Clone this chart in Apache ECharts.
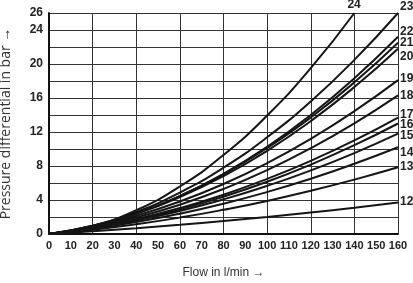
<!DOCTYPE html>
<html>
<head>
<meta charset="utf-8">
<script src="https://cdn.jsdelivr.net/npm/echarts@6/dist/echarts.min.js"></script>
<style>
html,body{margin:0;padding:0;background:#fff;}
#chart{width:413px;height:283px;}
</style>
</head>
<body>
<div id="chart"></div>
<script>
// Flow (l/min) sample points
var flow = [0, 20, 40, 60, 80, 100, 120, 140, 160];
// Pressure differential (bar) per curve
var curve24 = [0, 0.94, 2.8, 5.59, 9.3, 13.94, 19.51, 26];
var curve23 = [0, 0.98, 2.6, 4.88, 7.8, 11.38, 15.6, 20.48, 26];
var curve22 = [0, 0.92, 2.41, 4.46, 7.08, 10.26, 14.01, 18.32, 23.2];
var curve21 = [0, 0.97, 2.46, 4.48, 7.03, 10.11, 13.71, 17.84, 22.5];
var curve20 = [0, 0.94, 2.38, 4.34, 6.81, 9.79, 13.28, 17.29, 21.8];
var curve19 = [0, 0.88, 2.15, 3.82, 5.88, 8.34, 11.2, 14.45, 18.1];
var curve18 = [0, 0.79, 1.94, 3.44, 5.3, 7.51, 10.09, 13.01, 16.3];
var curve17 = [0, 0.74, 1.76, 3.05, 4.62, 6.48, 8.61, 11.01, 13.7];
var curve16 = [0, 0.7, 1.67, 2.89, 4.39, 6.14, 8.17, 10.45, 13.0];
var curve15 = [0, 0.67, 1.58, 2.71, 4.07, 5.66, 7.48, 9.52, 11.8];
var curve14 = [0, 0.61, 1.4, 2.39, 3.57, 4.94, 6.5, 8.26, 10.2];
var curve13 = [0, 0.51, 1.15, 1.93, 2.85, 3.89, 5.08, 6.4, 7.85];
var curve12 = [0, 0.32, 0.68, 1.08, 1.52, 2.0, 2.53, 3.09, 3.7];
var curveNames = ['24','23','22','21','20','19','18','17','16','15','14','13','12'];
var curveValues = [curve24, curve23, curve22, curve21, curve20, curve19, curve18, curve17, curve16, curve15, curve14, curve13, curve12];
var xTickLabels = [0,10,20,30,40,50,60,70,80,90,100,110,120,130,140,150,160];
var yTickLabels = [0,4,8,12,16,20,24,26];

// label offsets (style only)
var labelOff = {'24':[-9,-8],'23':[0,-6],'22':[0,-5],'21':[0,0],'20':[0,8],'19':[0,-1],'18':[0,0],'17':[0,-3],'16':[0,1],'15':[0,2],'14':[0,5],'13':[0,-1],'12':[0,-1]};

var fontFam = "'Liberation Sans','Arial',sans-serif";
var series = curveNames.map(function(name, k){
  var vals = curveValues[k];
  return {
    name: name,
    type: 'line',
    xAxisIndex: 0,
    yAxisIndex: 0,
    smooth: true,
    symbol: 'none',
    silent: true,
    lineStyle: {color: '#151515', width: 2},
    data: vals.map(function(v, i){ return [flow[i], v]; }),
    endLabel: {
      show: true,
      formatter: name,
      color: '#222',
      fontSize: 12,
      fontWeight: 'bold',
      fontFamily: fontFam,
      distance: 2,
      offset: labelOff[name]
    }
  };
});

var chart = echarts.init(document.getElementById('chart'), null, {renderer: 'canvas'});
chart.setOption({
  animation: false,
  backgroundColor: '#fff',
  grid: {left: 49, right: 15, top: 13, bottom: 49, containLabel: false, outerBoundsMode: 'none'},
  xAxis: [{
    type: 'value', min: 0, max: 160, interval: 10, position: 'bottom',
    name: 'Flow in l/min →', nameLocation: 'middle', nameGap: 33,
    nameTextStyle: {color: '#333', fontSize: 12, fontFamily: fontFam},
    axisLine: {show: true, lineStyle: {color: '#111', width: 2}},
    axisTick: {show: false},
    splitLine: {show: false},
    axisLabel: {color: '#222', fontSize: 11, fontWeight: 'bold', fontFamily: fontFam, margin: 6, hideOverlap: false,
      showMinLabel: true, showMaxLabel: true,
      formatter: function(v){ return xTickLabels.indexOf(v) >= 0 ? String(v) : ''; }}
  }, {
    type: 'value', min: 0, max: 160, interval: 20, position: 'bottom',
    axisLine: {show: false}, axisTick: {show: false}, axisLabel: {show: false},
    splitLine: {show: true, lineStyle: {color: '#333', width: 1}}
  }],
  yAxis: [{
    type: 'value', min: 0, max: 26, interval: 2,
    name: 'Pressure differential in bar →', nameLocation: 'middle', nameGap: 36, nameRotate: 90,
    nameTextStyle: {color: '#333', fontSize: 14, fontFamily: "'Open Sans','Liberation Sans',sans-serif"},
    axisLine: {show: true, lineStyle: {color: '#111', width: 2}},
    axisTick: {show: false},
    splitLine: {show: true, lineStyle: {color: '#333', width: 1}},
    axisLabel: {color: '#222', fontSize: 12, fontWeight: 'bold', fontFamily: fontFam, margin: 6,
      showMinLabel: true, showMaxLabel: true,
      formatter: function(v){ return yTickLabels.indexOf(v) >= 0 ? String(v) : ''; }}
  }],
  series: series
});
</script>
</body>
</html>
